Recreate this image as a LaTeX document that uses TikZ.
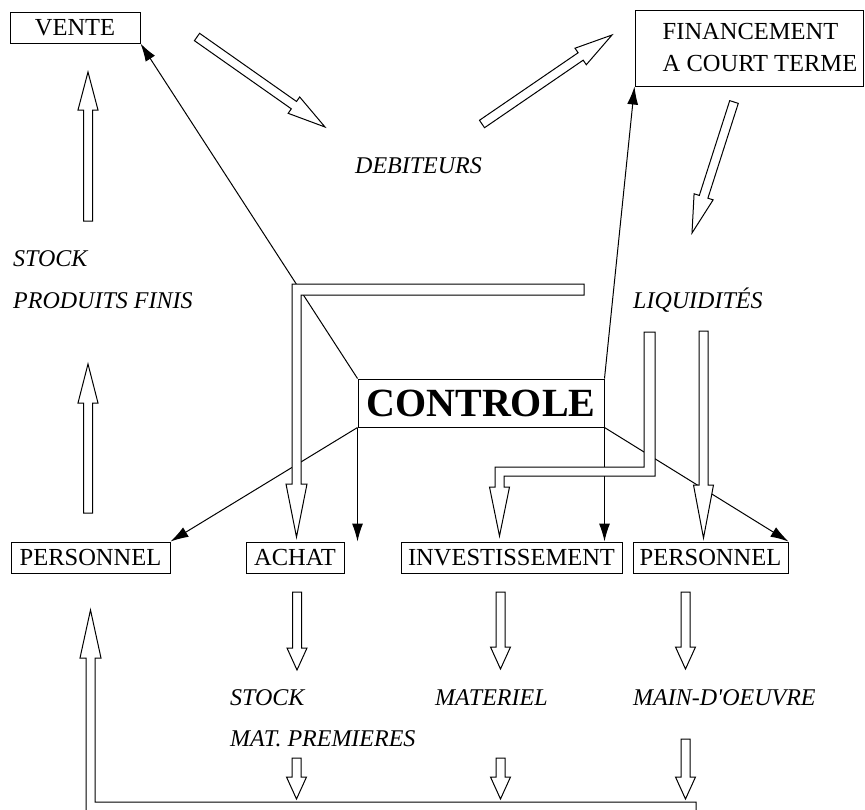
\documentclass[tikz,border=0pt]{standalone}
\usepackage{fontspec}
\setmainfont{Liberation Serif}
\usetikzlibrary{arrows.meta,calc}

\tikzset{
  cadre/.style={draw, line width=1pt, inner sep=0pt, font=\fontsize{24.5}{32}\selectfont},
  boite/.style={cadre, minimum height=31pt, text height=16pt, text depth=0pt},
  etiq/.style={anchor=west, inner sep=0pt, text height=16pt, text depth=0pt, font=\fontsize{24}{28}\selectfont\itshape},
  fil/.style={line width=1pt, -{Latex[length=18pt,width=11pt]}},
  creuse/.style={draw, fill=white, line width=1pt, line join=miter},
}

% Fleche creuse : [longueur de la pointe]{depart}{arrivee}
\newcommand{\flechecreuse}[3][22pt]{%
  \coordinate (pointe) at ($(#3)!#1!(#2)$);
  \draw[creuse] ($(#2)!4.5pt!90:(#3)$) -- ($(pointe)!4.5pt!90:(#3)$) -- ($(pointe)!10pt!90:(#3)$) -- (#3)
    -- ($(pointe)!10pt!-90:(#3)$) -- ($(pointe)!4.5pt!-90:(#3)$) -- ($(#2)!4.5pt!-90:(#3)$) -- cycle;
}

\begin{document}
\begin{tikzpicture}[x=1pt, y=-1pt]
	\useasboundingbox (0,0) rectangle (865,809);
	\clip (0,0) rectangle (865,809);

	% Cadres
		\node[boite, minimum width=130pt] (vente) at (75,27.5) {VENTE};
		\node[cadre, align=left, minimum width=228pt, minimum height=76pt] (financement) at (749,48)
			{\hspace*{22pt}FINANCEMENT\\\hspace*{22pt}A COURT TERME};
		\node[cadre, minimum width=246pt, minimum height=48pt, text height=27pt, text depth=0pt,
			font=\fontsize{40}{44}\selectfont\bfseries] (controle) at (481,403) {CONTROLE};
		\node[boite, minimum width=159pt] (persG) at (90.5,557.5) {PERSONNEL};
		\node[boite, minimum width=98pt] (achat) at (295,557.5) {ACHAT};
		\node[boite, minimum width=221pt] (invest) at (511.5,557.5) {INVESTISSEMENT};
		\node[boite, minimum width=155pt] (persD) at (710.5,557.5) {PERSONNEL};

	% Etiquettes
		\node[etiq] (debiteurs) at (355,165) {DEBITEURS};
		\node[etiq] (stockPF) at (13,258) {STOCK};
		\node[etiq] (produitsFinis) at (13,300) {PRODUITS FINIS};
		\node[etiq] (liquidites) at (633,300) {LIQUIDITÉS};
		\node[etiq] (stockMP) at (230,697) {STOCK};
		\node[etiq] (matPremieres) at (230,738) {MAT. PREMIERES};
		\node[etiq] (materiel) at (435,697) {MATERIEL};
		\node[etiq] (mainOeuvre) at (633,697) {MAIN-D\textquotesingle OEUVRE};

	% Fleches du controle
		\draw[fil] (controle.north west) -- (vente.south east);
		\draw[fil] (controle.north east) -- (financement.south west);
		\draw[fil] (controle.south west) -- (persG.north east);
		\draw[fil] (controle.south east) -- (persD.north east);
		\draw[fil] (controle.south west) -- (controle.south west |- achat.north);
		\draw[fil] (controle.south east) -- (controle.south east |- invest.north);

	% Fleches creuses
		% Cycle du haut
			\coordinate (pf1) at (88,221);     \coordinate (v1) at (88,72);
			\coordinate (pf2) at (88,513);     \coordinate (pf3) at (88,364);
			\coordinate (v2) at (197,37);      \coordinate (d1) at (325,127);
			\coordinate (d2) at (482,124);     \coordinate (f1) at (612,35);
			\coordinate (f2) at (734,102);     \coordinate (l1) at (692,233);
			\flechecreuse[38pt]{pf1}{v1}
			\flechecreuse[39pt]{pf2}{pf3}
			\flechecreuse[38pt]{v2}{d1}
			\flechecreuse[38pt]{d2}{f1}
			\flechecreuse[38pt]{f2}{l1}
		% Liquidites vers personnel
			\coordinate (l2) at (703.5,331);   \coordinate (p1) at (703.5,538);
			\flechecreuse[53pt]{l2}{p1}
		% Vers le bas
			\coordinate (a1) at (297,592);     \coordinate (a2) at (297,670);
			\coordinate (i1) at (500.5,592);   \coordinate (i2) at (500.5,669);
			\coordinate (p2) at (685.5,592);   \coordinate (p3) at (685.5,669);
			\coordinate (m1) at (296.5,758);   \coordinate (m2) at (296.5,799);
			\coordinate (m3) at (500.5,758);   \coordinate (m4) at (500.5,799);
			\coordinate (m5) at (685.5,739);   \coordinate (m6) at (685.5,799);
			\flechecreuse{a1}{a2}
			\flechecreuse{i1}{i2}
			\flechecreuse{p2}{p3}
			\flechecreuse{m1}{m2}
			\flechecreuse{m3}{m4}
			\flechecreuse{m5}{m6}
		% Coudes
			\draw[creuse] (292,284) -- (584,284) -- (584,295) -- (301,295) -- (301,484) -- (307,484)
				-- (296.5,537) -- (286,484) -- (292,484) -- cycle;
			\draw[creuse] (644,332) -- (655,332) -- (655,476) -- (504,476) -- (504,487) -- (509.5,487)
				-- (499.5,536) -- (489.5,487) -- (495,487) -- (495,467) -- (644,467) -- cycle;
			\draw[creuse, fill=none] (86,815) -- (86,658) -- (80,658) -- (90.5,610) -- (101,658) -- (95,658)
				-- (95,802) -- (696,802) -- (696,815);
\end{tikzpicture}
\end{document}
